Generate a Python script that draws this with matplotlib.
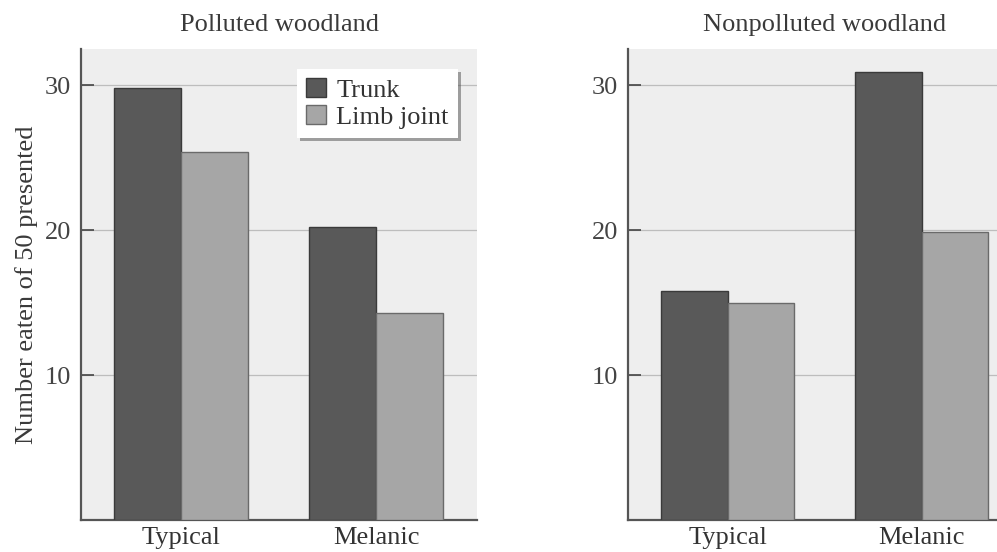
import matplotlib
matplotlib.use("Agg")
import matplotlib.pyplot as plt
import numpy as np

categories = ["Typical", "Melanic"]
series_names = ["Trunk", "Limb joint"]
polluted_trunk = [29.8, 20.2]
polluted_limb = [25.4, 14.3]
nonpolluted_trunk = [15.8, 30.9]
nonpolluted_limb = [15.0, 19.9]
yticks = [10, 20, 30]
titles = ["Polluted woodland", "Nonpolluted woodland"]
ylabel = "Number eaten of 50 presented"

plt.rcParams['font.family'] = ['Liberation Serif', 'DejaVu Serif']

fig = plt.figure(figsize=(9.97, 5.52), dpi=100)
fig.patch.set_facecolor("white")

dark = "#595959"
light = "#a6a6a6"
bg = "#eeeeee"
bw = 0.345
fs = 19

positions = [
    [81/997, 32/552, 396/997, 471/552],
    [628/997, 32/552, 394/997, 471/552],
]
data = [(polluted_trunk, polluted_limb), (nonpolluted_trunk, nonpolluted_limb)]

for i, (pos, (tr, lb)) in enumerate(zip(positions, data)):
    ax = fig.add_axes(pos)
    ax.set_facecolor(bg)
    x = np.arange(len(categories))
    ax.bar(x - bw/2, tr, bw, color=dark, edgecolor="#3a3a3a", linewidth=1.0,
           label=series_names[0], zorder=3)
    ax.bar(x + bw/2, lb, bw, color=light, edgecolor="#6a6a6a", linewidth=1.0,
           label=series_names[1], zorder=3)
    ax.set_xlim(-0.513, 1.518)
    ax.set_ylim(0, 32.5)
    ax.set_yticks(yticks)
    ax.set_yticklabels([str(t) for t in yticks], fontsize=fs, color="#444444")
    ax.set_xticks(x)
    ax.set_xticklabels(categories, fontsize=fs, color="#333333")
    ax.tick_params(axis='x', length=0, pad=5)
    ax.tick_params(axis='y', direction='in', length=9, width=1.2, color="#444444", pad=7)
    for t in yticks:
        ax.axhline(t, color="#bdbdbd", linewidth=0.9, zorder=1)
    for s in ["top", "right"]:
        ax.spines[s].set_visible(False)
    for s in ["left", "bottom"]:
        ax.spines[s].set_color("#555555")
        ax.spines[s].set_linewidth(1.6)
    ax.set_title(titles[i], fontsize=fs, color="#3a3a3a", pad=13)
    if i == 0:
        ax.set_ylabel(ylabel, fontsize=fs, color="#3a3a3a")
        ax.yaxis.set_label_coords(-0.108, 0.5)
        leg = ax.legend(loc="upper right", bbox_to_anchor=(0.952, 0.958), fontsize=fs,
                        frameon=True, fancybox=False, shadow=True,
                        borderaxespad=0,
                        handlelength=0.75, handleheight=0.75, handletextpad=0.4,
                        borderpad=0.35, labelspacing=0.12, framealpha=1,
                        edgecolor="#ffffff")
        leg.get_frame().set_linewidth(0)
        for txt in leg.get_texts():
            txt.set_color("#333333")

fig.savefig("out.png", dpi=100, facecolor="white")
